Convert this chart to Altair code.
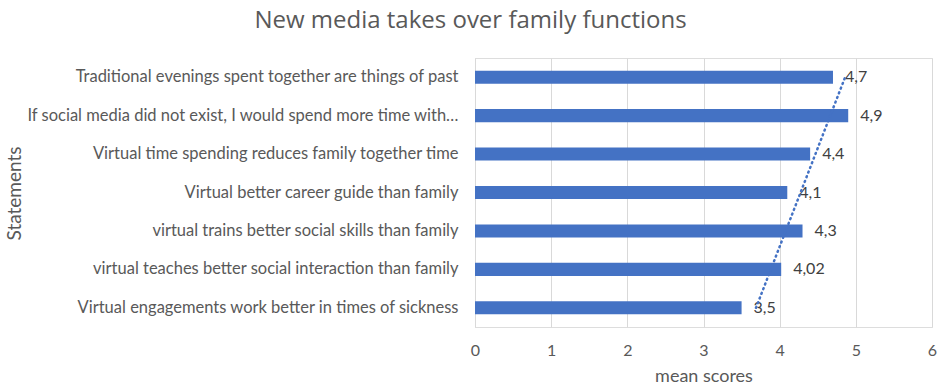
import altair as alt
import pandas as pd

statements = [
    "Traditional evenings spent together are things of past",
    "If social media did not exist, I would spend more time with…",
    "Virtual time spending reduces family together time",
    "Virtual better career guide than family",
    "virtual trains better social skills than family",
    "virtual teaches better social interaction than family",
    "Virtual engagements work better in times of sickness",
]
mean_scores = [4.7, 4.9, 4.4, 4.1, 4.3, 4.02, 3.5]

n = len(statements)
df = pd.DataFrame({
    "statement": statements,
    "value": mean_scores,
    "idx": [n - i for i in range(n)],
})

FONT = "Lato"
TXT = "#595959"
BLUE = "#4472C4"

y_band = alt.Y(
    "statement:N",
    sort=statements,
    scale=alt.Scale(paddingInner=0.66, paddingOuter=0.33),
    axis=alt.Axis(
        title="Statements", titleFont=FONT, titleFontSize=19, titleColor=TXT,
        titleFontWeight="normal", titleX=-451, titleY=135,
        labelFont=FONT, labelFontSize=16.5, labelColor=TXT, labelPadding=17,
        labelLimit=470, ticks=False, domain=True, domainColor="#d9d9d9",
    ),
)

x_enc = alt.X(
    "value:Q",
    scale=alt.Scale(domain=[0, 6], nice=False),
    axis=alt.Axis(
        title="mean scores", titleFont=FONT, titleFontSize=18, titleColor=TXT,
        titleFontWeight="normal", titlePadding=9,
        labelFont=FONT, labelFontSize=16, labelColor=TXT, labelPadding=15,
        labelFlush=False,
        values=[0, 1, 2, 3, 4, 5, 6], format="d", ticks=False, domain=False,
        grid=True, gridColor="#d9d9d9", gridWidth=1,
    ),
)

base = alt.Chart(df)

bars = base.mark_bar(color=BLUE).encode(x=x_enc, y=y_band)

labels = base.transform_calculate(
    lab="replace(toString(datum.value), '.', ',')"
).mark_text(align="left", dx=12, font=FONT, fontSize=16, color="#404040").encode(
    x="value:Q", y=alt.Y("statement:N", sort=statements), text="lab:N"
)

trend = base.transform_regression("idx", "value", extent=[1, n]).mark_line(
    color=BLUE, strokeDash=[1, 4], strokeWidth=2.5, strokeCap="round"
).encode(
    x="value:Q",
    y=alt.Y("idx:Q", scale=alt.Scale(domain=[0.5, n + 0.5], nice=False, zero=False), axis=None),
)

chart = alt.layer(alt.layer(bars, labels), trend).resolve_scale(y="independent").properties(
    width=457,
    height=269,
    autosize=alt.AutoSizeParams(type="none"),
    padding={"left": 475, "top": 58, "right": 7, "bottom": 64},
    title=alt.TitleParams(
        "New media takes over family functions", font="Open Sans", fontSize=24,
        color=TXT, fontWeight="normal", anchor="middle", frame="group", dx=-233, offset=25,
    ),
).configure_view(stroke=None).configure(background="white")

chart.save("out.html", embed_options={"renderer": "svg", "actions": False})
